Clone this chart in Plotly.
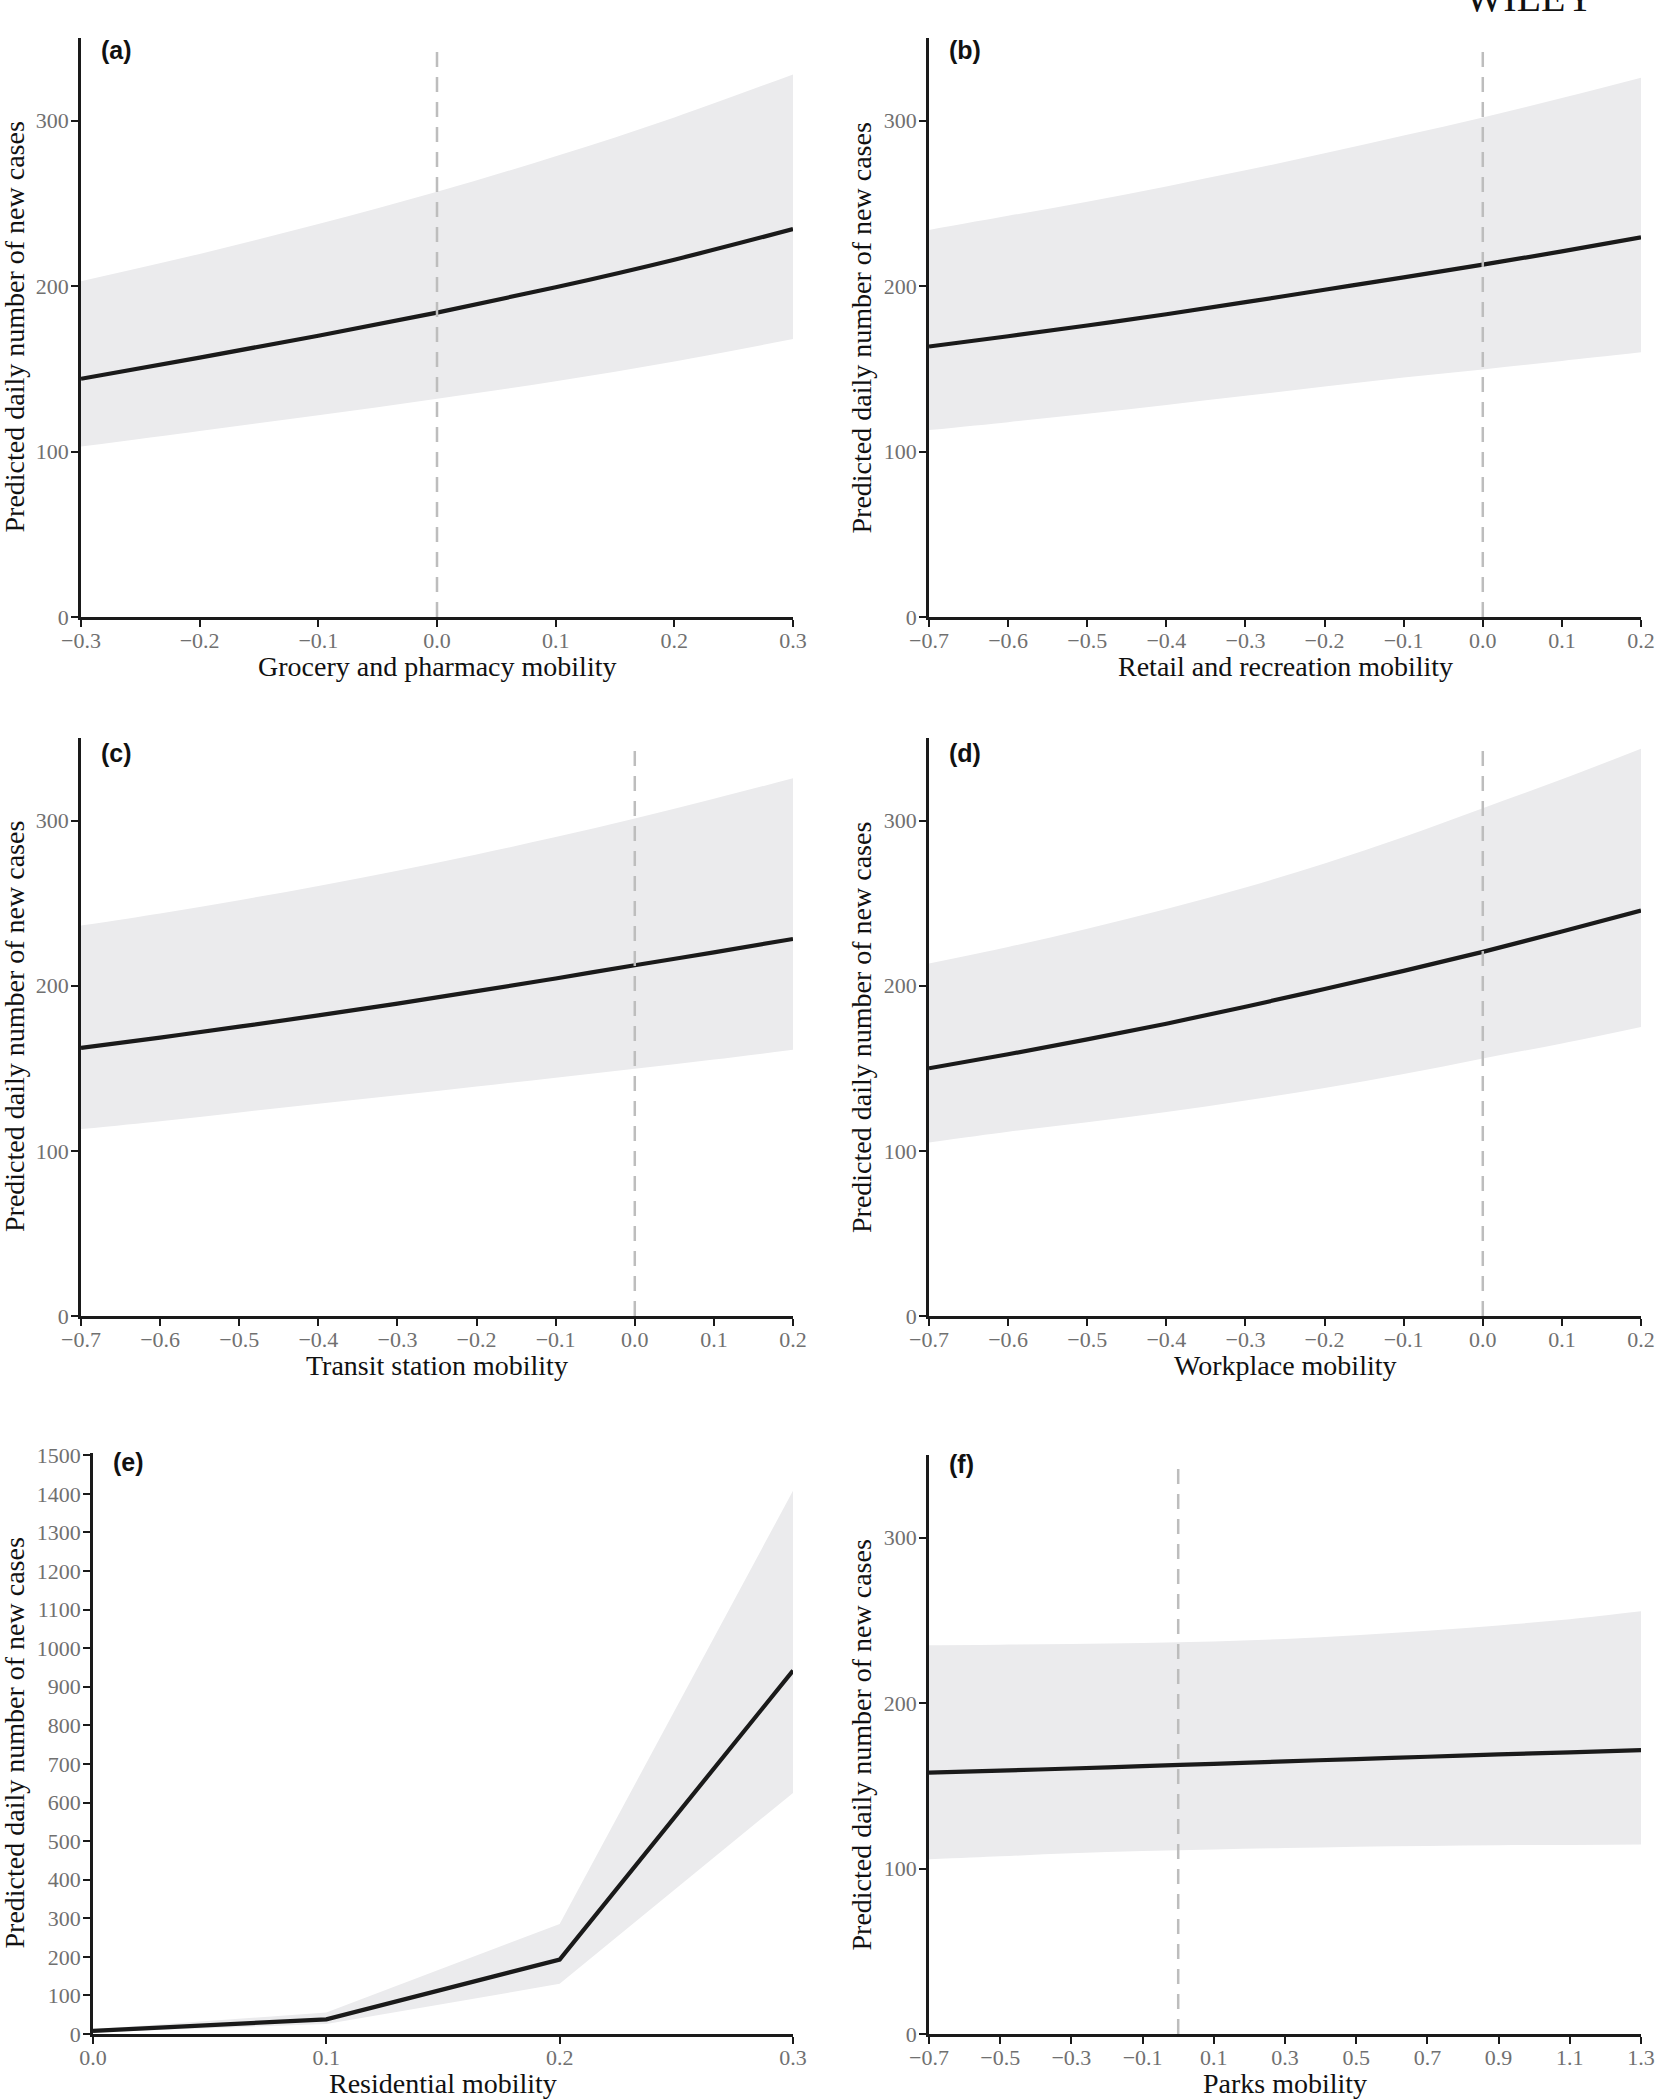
import plotly.graph_objects as go

W, H = 1655, 2100

# ---------------- data ----------------
# (a) Grocery and pharmacy
a_x = [-0.3, -0.2, -0.1, 0.0, 0.1, 0.2, 0.3]
a_fit = [144, 156.8, 170, 184, 199.3, 216, 234.5]
a_hi = [203, 219.5, 237.5, 257, 278.5, 302, 328]
a_lo = [103, 112.5, 122, 132, 142.5, 154.5, 168]

# (b) Retail and recreation
b_x = [-0.7, -0.6, -0.5, -0.4, -0.3, -0.2, -0.1, 0.0, 0.1, 0.2]
b_fit = [163.5, 169.7, 176.2, 183, 190.3, 197.8, 205.3, 213, 221, 229.5]
b_hi = [234, 242.5, 251, 260.3, 270, 280.3, 291, 302, 313.7, 326]
b_lo = [113, 117.8, 122.8, 128.2, 133.7, 139.3, 144.8, 149.6, 154.8, 160]

# (c) Transit station
c_x = [-0.7, -0.6, -0.5, -0.4, -0.3, -0.2, -0.1, 0.0, 0.1, 0.2]
c_fit = [162.3, 168.6, 175.2, 182, 189.2, 196.7, 204.4, 212.4, 220.2, 228.3]
c_hi = [236.4, 243.8, 251.8, 260.4, 269.6, 279.5, 290, 301.3, 313.2, 325.6]
c_lo = [113.2, 118, 123.3, 128.5, 133.6, 138.9, 144.3, 149.7, 155.3, 161.2]

# (d) Workplace
d_x = [-0.7, -0.6, -0.5, -0.4, -0.3, -0.2, -0.1, 0.0, 0.1, 0.2]
d_fit = [150, 158.5, 167.5, 177, 187.3, 198, 209, 220.5, 232.8, 245.5]
d_hi = [213.5, 223.5, 234.5, 246.5, 259.5, 274, 290, 307.5, 325, 343.5]
d_lo = [105, 111.5, 117.3, 123.5, 130.5, 138, 146.5, 156, 165, 175]

# (e) Residential
e_x = [0.0, 0.1, 0.2, 0.3]
e_fit = [8, 38, 193, 942]
e_hi = [12, 56, 285, 1408]
e_lo = [4, 26, 130, 625]

# (f) Parks
f_x = [-0.7, -0.5, -0.3, -0.1, 0.1, 0.3, 0.5, 0.7, 0.9, 1.1, 1.3]
f_fit = [158, 159.2, 160.5, 161.9, 163.3, 164.8, 166.2, 167.6, 169, 170.3, 171.6]
f_hi = [235, 235.3, 235.8, 236.4, 237.3, 238.8, 241, 243.7, 247, 250.7, 255.5]
f_lo = [105.6, 107.4, 109.2, 110.6, 111.6, 112.4, 113.2, 113.7, 114.1, 114.3, 114.5]

# tick values / labels
ticks_a = [-0.3, -0.2, -0.1, 0.0, 0.1, 0.2, 0.3]
labels_a = ["\u22120.3", "\u22120.2", "\u22120.1", "0.0", "0.1", "0.2", "0.3"]
ticks_bcd = [-0.7, -0.6, -0.5, -0.4, -0.3, -0.2, -0.1, 0.0, 0.1, 0.2]
labels_bcd = ["\u22120.7", "\u22120.6", "\u22120.5", "\u22120.4", "\u22120.3",
              "\u22120.2", "\u22120.1", "0.0", "0.1", "0.2"]
ticks_e = [0.0, 0.1, 0.2, 0.3]
labels_e = ["0.0", "0.1", "0.2", "0.3"]
ticks_f = [-0.7, -0.5, -0.3, -0.1, 0.1, 0.3, 0.5, 0.7, 0.9, 1.1, 1.3]
labels_f = ["\u22120.7", "\u22120.5", "\u22120.3", "\u22120.1", "0.1", "0.3",
            "0.5", "0.7", "0.9", "1.1", "1.3"]
yticks_std = [0, 100, 200, 300]
yticks_e = list(range(0, 1600, 100))

x_titles = ["Grocery and pharmacy mobility", "Retail and recreation mobility",
            "Transit station mobility", "Workplace mobility",
            "Residential mobility", "Parks mobility"]
tags = ["(a)", "(b)", "(c)", "(d)", "(e)", "(f)"]
y_title = "Predicted daily number of new cases"
header = "WILEY"

# ---------------- layout geometry (pixels) ----------------
panels = [
    dict(d=(a_x, a_fit, a_hi, a_lo), xt=ticks_a, xl=labels_a, yt=yticks_std, yr=[0, 350],
         L=81, R=793, T=38, B=617, vline=True, shape="spline", yto=67, tago=12),
    dict(d=(b_x, b_fit, b_hi, b_lo), xt=ticks_bcd, xl=labels_bcd, yt=yticks_std, yr=[0, 350],
         L=929, R=1641, T=38, B=617, vline=True, shape="spline", yto=68, tago=12),
    dict(d=(c_x, c_fit, c_hi, c_lo), xt=ticks_bcd, xl=labels_bcd, yt=yticks_std, yr=[0, 350],
         L=81, R=793, T=738, B=1316, vline=True, shape="spline", yto=67, tago=15),
    dict(d=(d_x, d_fit, d_hi, d_lo), xt=ticks_bcd, xl=labels_bcd, yt=yticks_std, yr=[0, 350],
         L=929, R=1641, T=738, B=1316, vline=True, shape="spline", yto=68, tago=15),
    dict(d=(e_x, e_fit, e_hi, e_lo), xt=ticks_e, xl=labels_e, yt=yticks_e, yr=[0, 1506],
         L=93, R=793, T=1453, B=2034, vline=False, shape="linear", yto=79, tago=9),
    dict(d=(f_x, f_fit, f_hi, f_lo), xt=ticks_f, xl=labels_f, yt=yticks_std, yr=[0, 350],
         L=929, R=1641, T=1455, B=2034, vline=True, shape="spline", yto=68, tago=9),
]

RIBBON = "#EBEBED"
LINE = "#1a1a1a"
AXC = "#1a1a1a"
SERIF = "Liberation Serif, Times New Roman, serif"
SANS = "Liberation Sans, Arial, sans-serif"

fig = go.Figure()
annotations = []
shapes = []
layout = {}

def px2x(px):
    return px / W

def px2y(py):
    return 1 - py / H

for i, p in enumerate(panels):
    n = "" if i == 0 else str(i + 1)
    xa, ya = "x" + n, "y" + n
    xs, fit, hi, lo = p["d"]
    fig.add_trace(go.Scatter(x=xs, y=lo, xaxis=xa, yaxis=ya, mode="lines",
                             line=dict(width=0, shape=p["shape"], color=RIBBON),
                             showlegend=False, hoverinfo="skip"))
    fig.add_trace(go.Scatter(x=xs, y=hi, xaxis=xa, yaxis=ya, mode="lines",
                             line=dict(width=0, shape=p["shape"], color=RIBBON),
                             fill="tonexty", fillcolor=RIBBON,
                             showlegend=False, hoverinfo="skip"))
    fig.add_trace(go.Scatter(x=xs, y=fit, xaxis=xa, yaxis=ya, mode="lines",
                             line=dict(width=4.2, shape=p["shape"], color=LINE),
                             showlegend=False))

    axis_common = dict(showline=True, linecolor=AXC, linewidth=2.5,
                       ticks="outside", ticklen=7, tickwidth=2, tickcolor=AXC,
                       showgrid=False, zeroline=False, automargin=False,
                       ticklabeloverflow="allow",
                       tickfont=dict(family=SERIF, size=22, color="#707070"))
    layout["xaxis" + n] = dict(axis_common, domain=[px2x(p["L"]), px2x(p["R"])],
                               range=[p["xt"][0], p["xt"][-1]], anchor=ya,
                               tickmode="array", tickvals=p["xt"], ticktext=p["xl"],
                               ticklabelstandoff=-5)
    layout["yaxis" + n] = dict(axis_common, domain=[px2y(p["B"]), px2y(p["T"])],
                               range=p["yr"], anchor=xa,
                               tickmode="array", tickvals=p["yt"],
                               ticktext=[str(v) for v in p["yt"]],
                               ticklabelstandoff=-2)

    if p["vline"]:
        shapes.append(dict(type="line", xref=xa, yref=ya + " domain",
                           x0=0, x1=0, y0=0, y1=0.99, layer="above",
                           line=dict(color="#BDBDBD", width=2.5, dash="15px,10px")))

    # x title
    annotations.append(dict(text=x_titles[i], xref="paper", yref="paper",
                            x=px2x((p["L"] + p["R"]) / 2), y=px2y(p["B"] + 49),
                            xanchor="center", yanchor="middle", showarrow=False,
                            font=dict(family=SERIF, size=28, color="#111111")))
    # y title
    annotations.append(dict(text=y_title, xref="paper", yref="paper", textangle=-90,
                            x=px2x(p["L"] - p["yto"]), y=px2y((p["T"] + p["B"]) / 2),
                            xanchor="center", yanchor="middle", showarrow=False,
                            font=dict(family=SERIF, size=28, color="#111111")))
    # panel tag
    annotations.append(dict(text="<b>" + tags[i] + "</b>", xref="paper", yref="paper",
                            x=px2x(p["L"] + 18), y=px2y(p["T"] + p["tago"]),
                            xanchor="left", yanchor="middle", showarrow=False,
                            font=dict(family=SANS, size=25, color="#111111")))

# journal header, cut at the top edge (clipped text on a small overlay axis)
fig.add_trace(go.Scatter(x=[0.5], y=[19], text=[header], mode="text",
                         textposition="top center", cliponaxis=True,
                         xaxis="x7", yaxis="y7", showlegend=False, hoverinfo="skip",
                         textfont=dict(family=SERIF, size=40, color="#111111")))
layout["xaxis7"] = dict(domain=[px2x(1440), px2x(1620)], range=[0, 1], visible=False,
                        anchor="y7", fixedrange=True)
layout["yaxis7"] = dict(domain=[px2y(40), 1], range=[0, 40],
                        visible=False, anchor="x7", fixedrange=True)

fig.update_layout(width=W, height=H,
                  margin=dict(l=0, r=0, t=0, b=0, pad=0, autoexpand=False),
                  paper_bgcolor="white", plot_bgcolor="rgba(0,0,0,0)",
                  annotations=annotations, shapes=shapes, **layout)

fig.write_html("out.html", config={"displayModeBar": False},
               post_script="document.body.style.margin='0';document.body.style.padding='0';")
